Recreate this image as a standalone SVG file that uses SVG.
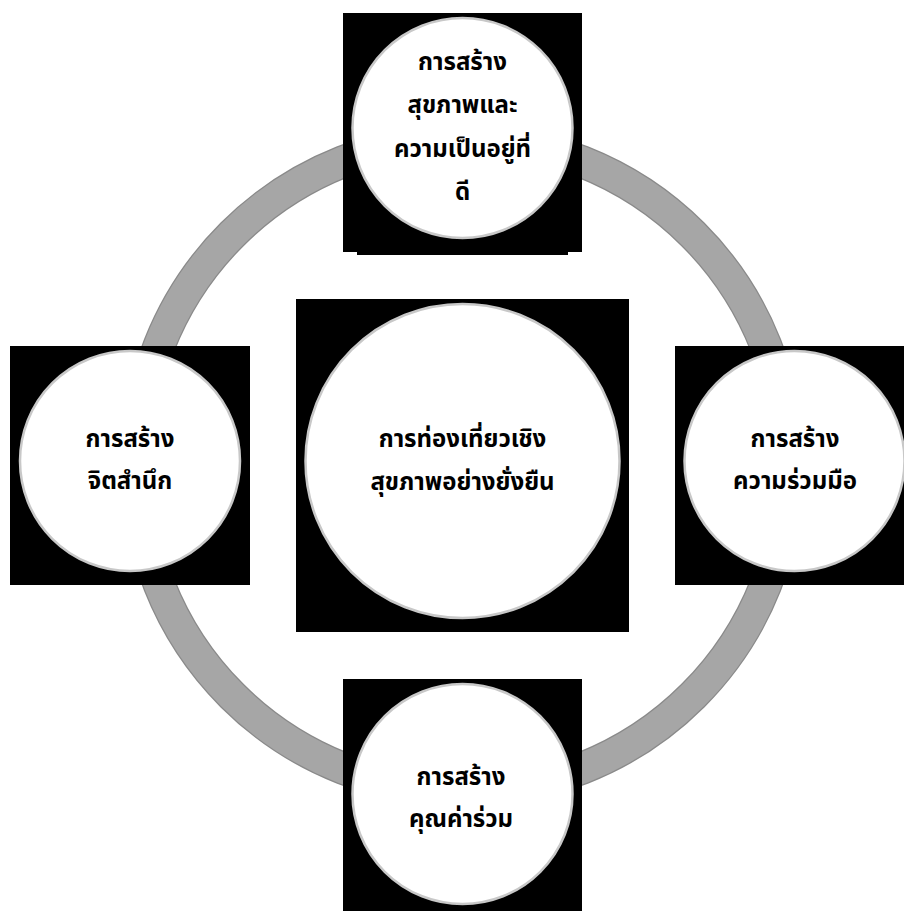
<svg xmlns="http://www.w3.org/2000/svg" width="904" height="911" viewBox="0 0 904 911">
<style>
.box{fill:#000000}
.disc{fill:#ffffff;stroke:#c8c8c8;stroke-width:2.5}
.lbl{font-family:"Noto Sans Thai","Leelawadee UI",Tahoma,"Noto Sans","DejaVu Sans",sans-serif;font-size:24px;font-weight:bold;fill:#000000;text-anchor:middle}
</style>
<rect width="904" height="911" fill="#ffffff"/>
<g id="connectors">
<circle cx="462.5" cy="465" r="326" fill="none" stroke="#8a8a8a" stroke-width="33"/>
<circle cx="462.5" cy="465" r="326" fill="none" stroke="#a6a6a6" stroke-width="30.5"/>
</g>
<g id="node-top">
<rect class="box" x="343" y="13" width="239" height="239"/>
<rect class="box" x="357" y="250" width="211" height="5"/>
<circle class="disc" cx="462.5" cy="128" r="110"/>
<text class="lbl" x="462.5" y="70">การสร้าง</text>
<text class="lbl" x="462.5" y="113">สุขภาพและ</text>
<text class="lbl" x="462.5" y="157">ความเป็นอยู่ที่</text>
<text class="lbl" x="462.5" y="200">ดี</text>
</g>
<g id="node-left">
<rect class="box" x="10" y="346" width="240" height="239"/>
<circle class="disc" cx="130" cy="461" r="110"/>
<text class="lbl" x="130" y="447">การสร้าง</text>
<text class="lbl" x="130" y="489">จิตสำนึก</text>
</g>
<g id="node-center">
<rect class="box" x="296" y="299" width="333" height="333"/>
<circle class="disc" cx="462.5" cy="461" r="157"/>
<text class="lbl" x="462.5" y="447">การท่องเที่ยวเชิง</text>
<text class="lbl" x="462.5" y="490">สุขภาพอย่างยั่งยืน</text>
</g>
<g id="node-right">
<rect class="box" x="675" y="346" width="240" height="239"/>
<circle class="disc" cx="794.5" cy="461" r="110"/>
<text class="lbl" x="795" y="447">การสร้าง</text>
<text class="lbl" x="795" y="489">ความร่วมมือ</text>
</g>
<g id="node-bottom">
<rect class="box" x="343" y="679" width="239" height="239"/>
<circle class="disc" cx="462.5" cy="794" r="110"/>
<text class="lbl" x="461" y="785">การสร้าง</text>
<text class="lbl" x="461" y="827">คุณค่าร่วม</text>
</g>
</svg>
